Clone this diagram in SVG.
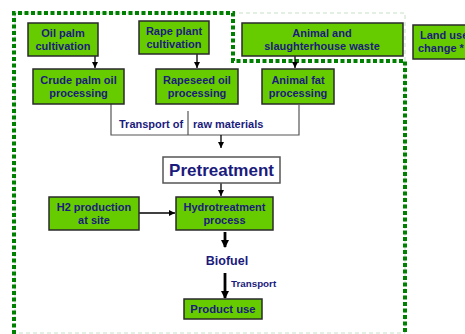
<svg xmlns="http://www.w3.org/2000/svg" width="465" height="334" viewBox="0 0 465 334">
<style>
.box{fill:#66cc00;stroke:#2a2a2a;stroke-width:1.5}
.t{font-family:"Liberation Sans",Arial,sans-serif;font-weight:bold;fill:#1b1b7d;text-anchor:middle}
.s11{font-size:11px}
.ln{stroke:#555;stroke-width:1.2;fill:none}
.ar{stroke:#000;stroke-width:1.3;fill:none}
.thick{stroke:#000;stroke-width:2.8;fill:none}
</style>
<defs>
<marker id="ah" markerWidth="8" markerHeight="8" refX="6" refY="4" orient="auto" markerUnits="userSpaceOnUse">
<path d="M0,1 L6,4 L0,7 Z" fill="#000"/>
</marker>
<marker id="ahb" markerWidth="10" markerHeight="10" refX="7" refY="5" orient="auto" markerUnits="userSpaceOnUse">
<path d="M0,1 L8,5 L0,9 Z" fill="#000"/>
</marker>
</defs>
<rect width="465" height="334" fill="#fff"/>
<g id="boundary">
<rect x="15" y="13" width="390" height="320" fill="none" stroke="#c6dfc6" stroke-width="1" stroke-dasharray="4 3"/>
<polyline points="14,334 14,13 233,13 233,61 405,61 405,334" fill="none" stroke="#008000" stroke-width="4" stroke-dasharray="4 2.5"/>
</g>
<g id="connectors">
<line class="ar" x1="95" y1="56" x2="95" y2="68" marker-end="url(#ah)"/>
<line class="ar" x1="197" y1="54" x2="197" y2="68" marker-end="url(#ah)"/>
<line class="ar" x1="295" y1="56" x2="295" y2="68" marker-end="url(#ah)"/>
<polyline class="ln" points="111,104 111,135 299,135 299,105"/>
<line class="ln" x1="188" y1="111" x2="188" y2="135"/>
<line class="ar" x1="221" y1="135" x2="221" y2="148" marker-end="url(#ah)"/>
<line class="ar" x1="221" y1="183" x2="221" y2="196" marker-end="url(#ah)"/>
<line class="ar" x1="139" y1="213" x2="175" y2="213" marker-end="url(#ah)"/>
<line class="thick" x1="225" y1="232" x2="225" y2="247" marker-end="url(#ahb)"/>
<line class="thick" x1="225" y1="273" x2="225" y2="298" marker-end="url(#ahb)"/>
<text class="t s11" x="119" y="128" style="text-anchor:start">Transport of</text>
<text class="t s11" x="193" y="128" style="text-anchor:start">raw materials</text>
<text class="t" x="231" y="287" font-size="9.8" style="text-anchor:start">Transport</text>
</g>
<g id="oil-palm">
<rect class="box" x="28" y="23" width="70" height="33"/>
<text class="t s11" x="63" y="37">Oil palm</text>
<text class="t s11" x="63" y="50">cultivation</text>
</g>
<g id="rape-plant">
<rect class="box" x="139" y="21" width="70" height="33"/>
<text class="t s11" x="174" y="35">Rape plant</text>
<text class="t s11" x="174" y="48">cultivation</text>
</g>
<g id="animal-waste">
<rect class="box" x="242" y="23" width="161" height="33"/>
<text class="t s11" x="322" y="37">Animal and</text>
<text class="t s11" x="322" y="50">slaughterhouse waste</text>
</g>
<g id="land-use">
<rect class="box" x="413" y="25" width="60" height="34"/>
<text class="t s11" x="420" y="39" style="text-anchor:start">Land use</text>
<text class="t s11" x="418" y="52" style="text-anchor:start">change *</text>
</g>
<g id="crude-palm">
<rect class="box" x="33" y="69" width="91" height="35"/>
<text class="t s11" x="78.5" y="84">Crude palm oil</text>
<text class="t s11" x="78.5" y="97">processing</text>
</g>
<g id="rapeseed">
<rect class="box" x="156" y="69" width="82" height="35"/>
<text class="t s11" x="197" y="84">Rapeseed oil</text>
<text class="t s11" x="197" y="97">processing</text>
</g>
<g id="animal-fat">
<rect class="box" x="262" y="69" width="72" height="35"/>
<text class="t s11" x="298" y="84">Animal fat</text>
<text class="t s11" x="298" y="97">processing</text>
</g>
<g id="pretreatment">
<rect x="163" y="157" width="117" height="26" fill="#fff" stroke="#555" stroke-width="1.5"/>
<text class="t" x="221.5" y="176" font-size="17">Pretreatment</text>
</g>
<g id="h2">
<rect class="box" x="49" y="197" width="90" height="33"/>
<text class="t s11" x="94" y="211">H2 production</text>
<text class="t s11" x="94" y="224">at  site</text>
</g>
<g id="hydro">
<rect class="box" x="176" y="197" width="97" height="33"/>
<text class="t s11" x="224.5" y="211">Hydrotreatment</text>
<text class="t s11" x="224.5" y="224">process</text>
</g>
<g id="biofuel">
<text class="t" x="227" y="265" font-size="12.5">Biofuel</text>
</g>
<g id="product-use">
<rect class="box" x="184" y="299" width="78" height="20"/>
<text class="t" x="223" y="313" font-size="11.3">Product use</text>
</g>
</svg>
